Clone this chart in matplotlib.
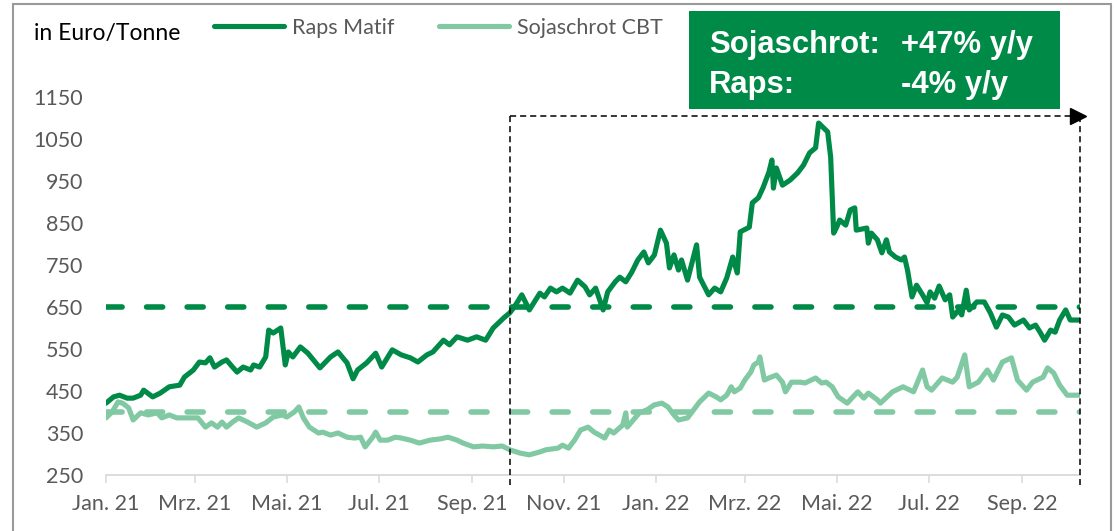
import datetime as dt
import numpy as np
import matplotlib
matplotlib.use("Agg")
import matplotlib.pyplot as plt
import matplotlib.dates as mdates
from matplotlib.patches import Rectangle
from matplotlib.lines import Line2D

# ---------------- data (days since 2021-01-01, EUR/t) ----------------
START = dt.datetime(2021, 1, 1)

raps_days = [0, 5, 9, 14, 18, 23, 25, 31, 36, 42, 49, 52, 58, 62, 66, 69, 72, 77, 80, 84,
             87, 91, 96, 98, 102, 106, 108, 111, 116, 119, 121, 124, 129, 134, 142, 149, 154, 160, 164, 167,
             173, 179, 183, 190, 196, 202, 207, 213, 217, 224, 228, 233, 240, 246, 252, 257, 264, 268, 271, 276,
             281, 288, 291, 295, 299, 303, 308, 313, 318, 321, 325, 330, 333, 338, 341, 345, 349, 353, 357, 360,
             364, 368, 372, 374, 377, 380, 382, 386, 392, 394, 400, 404, 408, 412, 416, 419, 421, 427, 429, 433,
             436, 440, 442, 443, 445, 449, 454, 459, 463, 467, 471, 473, 479, 481, 483, 485, 487, 491, 494, 497,
             498, 505, 506, 508, 512, 515, 518, 520, 524, 528, 530, 532, 535, 538, 542, 545, 547, 550, 553, 557,
             560, 562, 566, 568, 571, 573, 578, 583, 587, 591, 595, 599, 603, 609, 613, 617, 620, 623, 627, 630,
             633, 637, 640, 646]
raps_values = [421, 436, 440, 433, 433, 440, 452, 436, 445, 460, 464, 483, 500, 519, 517, 529, 507, 519, 524, 507,
               495, 507, 500, 512, 507, 531, 595, 588, 600, 512, 543, 531, 555, 540, 505, 531, 543, 517, 479, 500,
               517, 540, 507, 548, 536, 529, 519, 536, 543, 571, 560, 579, 571, 579, 571, 600, 624, 636, 650, 679,
               643, 683, 674, 695, 686, 695, 683, 714, 698, 679, 695, 643, 686, 710, 721, 710, 733, 762, 781, 755,
               774, 833, 802, 743, 774, 738, 762, 714, 798, 721, 679, 695, 686, 719, 769, 731, 829, 840, 898, 910,
               933, 971, 1000, 933, 981, 940, 952, 969, 988, 1017, 1029, 1088, 1067, 1007, 826, 840, 857, 845, 881, 886,
               833, 838, 802, 826, 810, 779, 810, 781, 769, 762, 769, 738, 674, 702, 679, 660, 686, 671, 700, 667,
               679, 626, 643, 631, 690, 643, 662, 662, 636, 602, 631, 626, 607, 619, 600, 607, 590, 571, 595, 590,
               619, 643, 619, 619]

soja_days = [0, 4, 8, 11, 15, 18, 23, 28, 34, 37, 42, 47, 54, 61, 66, 70, 74, 77, 80, 84,
             88, 94, 100, 106, 111, 117, 120, 125, 128, 131, 135, 141, 144, 149, 154, 160, 165, 169, 172, 177,
             179, 182, 187, 192, 196, 202, 208, 215, 222, 227, 233, 237, 244, 250, 257, 263, 268, 275, 281, 288,
             292, 300, 303, 307, 311, 315, 320, 324, 331, 334, 337, 343, 345, 346, 350, 354, 359, 364, 369, 373,
             377, 380, 386, 390, 394, 400, 405, 408, 412, 415, 417, 421, 424, 428, 430, 433, 434, 437, 440, 445,
             449, 451, 455, 461, 464, 471, 475, 478, 482, 486, 492, 495, 499, 503, 506, 512, 514, 522, 529, 536,
             542, 545, 548, 555, 562, 565, 570, 573, 579, 585, 589, 595, 601, 605, 611, 615, 622, 625, 629, 633,
             638, 646]
soja_values = [386, 400, 424, 421, 410, 381, 398, 393, 398, 386, 393, 386, 386, 386, 364, 374, 364, 376, 364, 376,
               386, 376, 364, 374, 388, 393, 388, 400, 412, 386, 364, 350, 352, 345, 350, 340, 338, 340, 317, 340,
               352, 333, 333, 340, 338, 333, 326, 333, 336, 340, 333, 326, 317, 319, 317, 319, 310, 302, 298, 305,
               310, 314, 321, 314, 333, 357, 364, 352, 338, 357, 350, 369, 398, 364, 381, 398, 405, 417, 421, 412,
               393, 381, 386, 405, 424, 445, 436, 429, 440, 460, 448, 457, 476, 495, 512, 519, 531, 476, 481, 488,
               471, 448, 471, 471, 469, 481, 469, 471, 460, 436, 421, 433, 448, 433, 445, 429, 421, 448, 460, 448,
               500, 460, 452, 481, 471, 483, 536, 460, 471, 500, 476, 519, 529, 476, 452, 471, 483, 505, 493, 464,
               440, 440]

raps_ref = 650
soja_ref = 400

series_names = ["Raps Matif", "Sojaschrot CBT"]
y_ticks = [250, 350, 450, 550, 650, 750, 850, 950, 1050, 1150]
tick_dates = ["2021-01-01", "2021-03-01", "2021-05-01", "2021-07-01", "2021-09-01", "2021-11-01",
              "2022-01-01", "2022-03-01", "2022-05-01", "2022-07-01", "2022-09-01"]
tick_labels = ["Jan. 21", "Mrz. 21", "Mai. 21", "Jul. 21", "Sep. 21", "Nov. 21",
               "Jan. 22", "Mrz. 22", "Mai. 22", "Jul. 22", "Sep. 22"]
unit_label = "in Euro/Tonne"
box_lines = [("Sojaschrot:", "+47% y/y"), ("Raps:", "-4% y/y")]

# annotation bracket (y/y window)
bracket_start_day = 268
bracket_level = 1105
x_end_day = 646.5

# ---------------- styling ----------------
DARK = "#008A47"
LIGHT = "#80C9A3"
GRAY = "#595959"
plt.rcParams["font.family"] = ["Lato", "DejaVu Sans"]

W, H = 1117, 531
fig = plt.figure(figsize=(W / 100, H / 100), dpi=100)
ax = fig.add_axes([106 / W, 1 - 475 / H, (1080 - 106) / W, (475 - 97) / H])

x0 = mdates.date2num(START)
rx = x0 + np.array(raps_days, dtype=float)
sx = x0 + np.array(soja_days, dtype=float)
xmax = x0 + x_end_day

# reference dashed lines
ax.plot([x0, xmax], [raps_ref, raps_ref], color=DARK, lw=4.0,
        dashes=(2.9, 4.4), dash_capstyle="round", zorder=2)
ax.plot([x0, xmax], [soja_ref, soja_ref], color=LIGHT, lw=4.0,
        dashes=(2.9, 4.4), dash_capstyle="round", zorder=2)

l1, = ax.plot(rx, raps_values, color=DARK, lw=3.7, solid_joinstyle="round",
              solid_capstyle="round", zorder=3)
l2, = ax.plot(sx, soja_values, color=LIGHT, lw=3.7, solid_joinstyle="round",
              solid_capstyle="round", zorder=4)

ax.set_xlim(x0, xmax)
ax.set_ylim(250, 1150)
ax.set_yticks(y_ticks)
ax.set_yticklabels([str(v) for v in y_ticks])
ax.set_xticks([mdates.date2num(dt.datetime.strptime(d, "%Y-%m-%d")) for d in tick_dates])
ax.set_xticklabels(tick_labels)

for s in ["top", "right", "left"]:
    ax.spines[s].set_visible(False)
ax.spines["bottom"].set_color("#D9D9D9")
ax.spines["bottom"].set_linewidth(1.3)
ax.tick_params(axis="y", length=0, pad=16.5, labelsize=15.5, labelcolor=GRAY)
ax.tick_params(axis="x", length=6, width=1.1, color="#D9D9D9", pad=8,
               labelsize=15.5, labelcolor=GRAY)

# dotted bracket with arrow
bx = x0 + bracket_start_day
kw = dict(color="black", lw=1.1, linestyle=(0, (4, 2.6)), clip_on=False, zorder=6)
ax.plot([bx, xmax], [bracket_level, bracket_level], **kw)
ax.plot([bx, bx], [bracket_level, 226], **kw)
ax.plot([xmax, xmax], [bracket_level, 226], **kw)
ax.plot([xmax - 1.2], [bracket_level], marker=">", markersize=11, color="black",
        clip_on=False, zorder=7, linestyle="none")

# legend
h1 = Line2D([], [], color=DARK, lw=3.7, solid_capstyle="round")
h2 = Line2D([], [], color=LIGHT, lw=3.7, solid_capstyle="round")
fig.legend([h1, h2], series_names, ncol=2, loc="center left",
           bbox_to_anchor=(214 / W, 1 - 28 / H), bbox_transform=fig.transFigure,
           frameon=False, handlelength=3.25, handletextpad=0.35, columnspacing=2.1,
           borderpad=0, borderaxespad=0, fontsize=15.5, labelcolor=GRAY)

# unit label
fig.text(34 / W, 1 - 40 / H, unit_label, ha="left", va="baseline", fontsize=16.5,
         color="black")

# green info box
fig.add_artist(Rectangle((689 / W, 1 - 109 / H), (1060 - 689) / W, (109 - 11) / H,
                         transform=fig.transFigure, facecolor=DARK, edgecolor="none",
                         zorder=8))
for (lab, val), base in zip(box_lines, [53, 93]):
    fig.text(709 / W, 1 - base / H, lab, ha="left", va="baseline", color="white",
             fontsize=22.3, fontweight="bold", family=["Liberation Sans", "DejaVu Sans"],
             zorder=9)
    fig.text(901 / W, 1 - base / H, val, ha="left", va="baseline", color="white",
             fontsize=22.3, fontweight="bold", family=["Liberation Sans", "DejaVu Sans"],
             zorder=9)

# outer frame
fig.add_artist(Rectangle((13 / W, -0.02), (1111 - 13) / W, 1.02 - 4 / H,
                         transform=fig.transFigure, facecolor="none",
                         edgecolor="#9A9A9A", lw=1.5, zorder=10))

fig.savefig("out.png", dpi=100)
